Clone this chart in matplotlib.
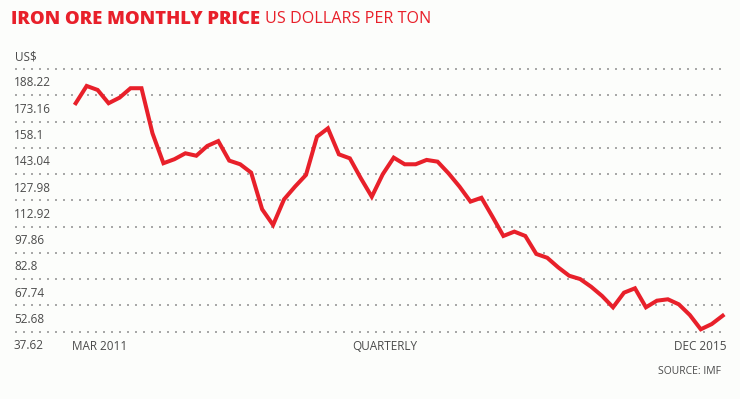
import matplotlib.pyplot as plt
import numpy as np

# monthly iron ore price, US$ per ton
prices = [168.6, 178.5, 176.2, 168.6, 171.8, 177.2, 177.2, 151.4, 134.2, 136.5,
          139.9, 138.5, 144.1, 146.9, 135.7, 133.6, 128.8, 107.8, 98.8, 113.5,
          120.8, 127.5, 149.4, 154.2, 139.3, 137.0, 125.6, 115.0, 127.9, 137.4,
          133.6, 133.6, 136.1, 135.1, 128.4, 120.8, 112.2, 114.4, 103.6, 92.5,
          95.0, 92.5, 82.2, 80.0, 74.5, 69.7, 67.8, 63.4, 58.1, 51.6,
          60.0, 62.5, 51.6, 55.4, 56.2, 53.3, 47.2, 39.0, 42.0, 46.8]
y_ticks = [37.62, 52.68, 67.74, 82.8, 97.86, 112.92, 127.98, 143.04, 158.1, 173.16, 188.22]
y_labels = ['37.62', '52.68', '67.74', '82.8', '97.86', '112.92', '127.98',
            '143.04', '158.1', '173.16', '188.22']

red = '#e8202a'
grey_text = '#4a4a4a'
plt.rcParams['font.family'] = ['Open Sans', 'DejaVu Sans']

W, H = 740, 399
fig = plt.figure(figsize=(W / 100, H / 100), dpi=100)
fig.patch.set_facecolor('#fcfdfb')

ax_left, ax_right = 15, 725
ax_top, ax_bot = 69, 331.7
ax = fig.add_axes([ax_left / W, 1 - ax_bot / H, (ax_right - ax_left) / W, (ax_bot - ax_top) / H])
ax.set_facecolor('none')

x = np.arange(len(prices))
ax.plot(x, prices, color=red, lw=2.9, solid_joinstyle='miter', clip_on=False, zorder=3)

step = 10.966
ax.set_xlim(-(75.7 - ax_left) / step, len(prices) - 1 + (ax_right - 722.7) / step)
ax.set_ylim(y_ticks[0], y_ticks[-1])

for t, lab in zip(y_ticks, y_labels):
    ax.axhline(t, color='#a8a8a8', lw=1.44, linestyle=(0, (1, 3)),
               dash_capstyle='butt', zorder=1, clip_on=False)
    fig.text(14 / W, 1 - (ax_bot - (t - y_ticks[0]) / (y_ticks[-1] - y_ticks[0]) * (ax_bot - ax_top) + 14) / H,
             lab, fontsize=8.5, color=grey_text, ha='left', va='center')

for s in ax.spines.values():
    s.set_visible(False)
ax.set_xticks([])
ax.set_yticks([])

fig.text(15 / W, 1 - 57 / H, 'US$', fontsize=8.5, color=grey_text, ha='left', va='center')
fig.text(72 / W, 1 - 347 / H, 'MAR 2011', fontsize=8.5, color=grey_text, ha='left', va='center')
fig.text(385 / W, 1 - 347 / H, 'QUARTERLY', fontsize=8.5, color=grey_text, ha='center', va='center')
fig.text(726 / W, 1 - 347 / H, 'DEC 2015', fontsize=8.5, color=grey_text, ha='right', va='center')
fig.text(721 / W, 1 - 372 / H, 'SOURCE: IMF', fontsize=7.5, color=grey_text, ha='right', va='center')

t1 = fig.text(11 / W, 1 - 19 / H, 'IRON ORE MONTHLY PRICE', fontsize=13.3, fontweight='heavy',
              color=red, ha='left', va='center')
fig.canvas.draw()
bb = t1.get_window_extent()
fig.text((bb.x1 + 5) / W, 1 - 19 / H, 'US DOLLARS PER TON', fontsize=11.6,
         color=red, ha='left', va='center')

fig.savefig('out.png', dpi=100, facecolor=fig.get_facecolor())
